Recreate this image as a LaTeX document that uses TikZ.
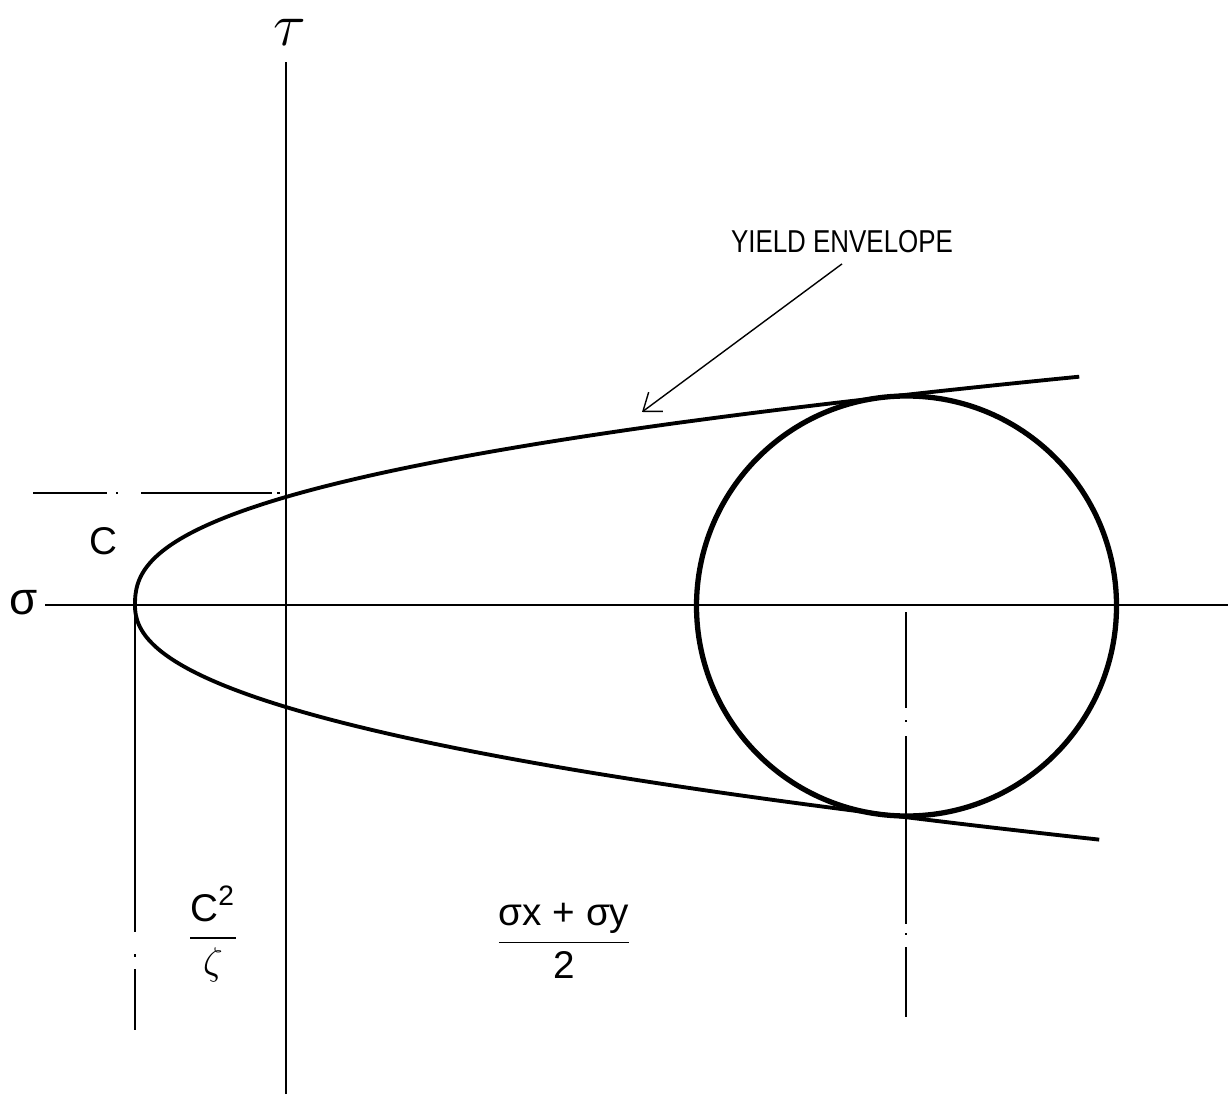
\documentclass[tikz,border=0pt]{standalone}
\usepackage{amsmath}
\usepackage{graphicx}
\usepackage{fontspec}
\setmainfont{Liberation Sans}
\usetikzlibrary{arrows.meta}

\tikzset{
  axisline/.style={line width=0.6pt},
  envelope/.style={line width=1.1pt, line join=round},
  mohrcircle/.style={line width=1.5pt},
  chainline/.style={line width=0.5pt},
  lbl/.style={inner sep=0pt},
}

\begin{document}
\begin{tikzpicture}
  \useasboundingbox (0,0) rectangle (12.28,10.94);

  % axes: tau (vertical) and sigma (horizontal)
  \draw[axisline] (2.86,0.0) -- (2.86,10.32);
  \draw[axisline] (0.45,4.89) -- (12.28,4.89);
  \node[lbl,font=\fontsize{16}{18}\selectfont] (taulbl) at (2.90,10.62) {$\tau$};
  \node[lbl,font=\fontsize{13}{15}\selectfont] (sigmalbl) at (0.24,4.91) {σ};

  % cohesion C marked on the tau axis
  \draw[chainline,dash pattern=on 0.74cm off 0.09cm on 0.02cm off 0.23cm on 1.31cm off 0.05cm on 0.03cm]
    (0.33,6.01) -- (2.84,6.01);
  \node[lbl,font=\fontsize{11}{13}\selectfont] (clbl) at (1.03,5.53) {C};

  % yield envelope: upper and lower branch meet at the vertex (1.35,4.89)
  \draw[envelope]
    plot[domain=2.283:0.002,samples=150] ({1.35+pow(\x/0.913,2.45)},{4.89+\x})
    -- (1.35,4.89) --
    plot[domain=0.002:2.348,samples=150] ({1.35+pow(\x/0.848,2.227)},{4.89-\x});

  % Mohr circle
  \coordinate (ctr) at (9.065,4.88);
  \draw[mohrcircle] (ctr) circle (2.10);

  % vertex and centre lines
  \draw[chainline,dash pattern=on 3.27cm off 0.22cm on 0.03cm off 0.12cm on 0.8cm]
    (1.35,4.89) -- (1.35,0.64);
  \draw[chainline,dash pattern=on 0.96cm off 0.12cm on 0.02cm off 0.14cm on 1.88cm off 0.09cm on 0.02cm off 0.12cm on 0.8cm]
    (9.06,4.82) -- (9.06,0.77);

  % labels below
  \node[lbl,font=\fontsize{11}{13}\selectfont] (vertexlbl) at (2.13,1.60)
    {$\dfrac{\mbox{C}^{\mbox{\fontsize{8}{9}\selectfont 2}}}{\zeta}$};
  \node[lbl,font=\fontsize{11}{13}\selectfont] (centrelbl) at (5.64,1.53)
    {$\dfrac{\mbox{σx + σy}}{\mbox{2}}$};

  % pointer to the envelope
  \node[inner sep=1mm,font=\fontsize{9}{11}\selectfont] (yieldlbl) at (8.42,8.52)
    {\scalebox{0.82}[1]{YIELD ENVELOPE}};
  \coordinate (yieldtip) at (6.42,6.82);
  \draw[-{Straight Barb[length=1.6mm,width=2.4mm]},line width=0.4pt] (yieldlbl.south) -- (yieldtip);
\end{tikzpicture}
\end{document}
